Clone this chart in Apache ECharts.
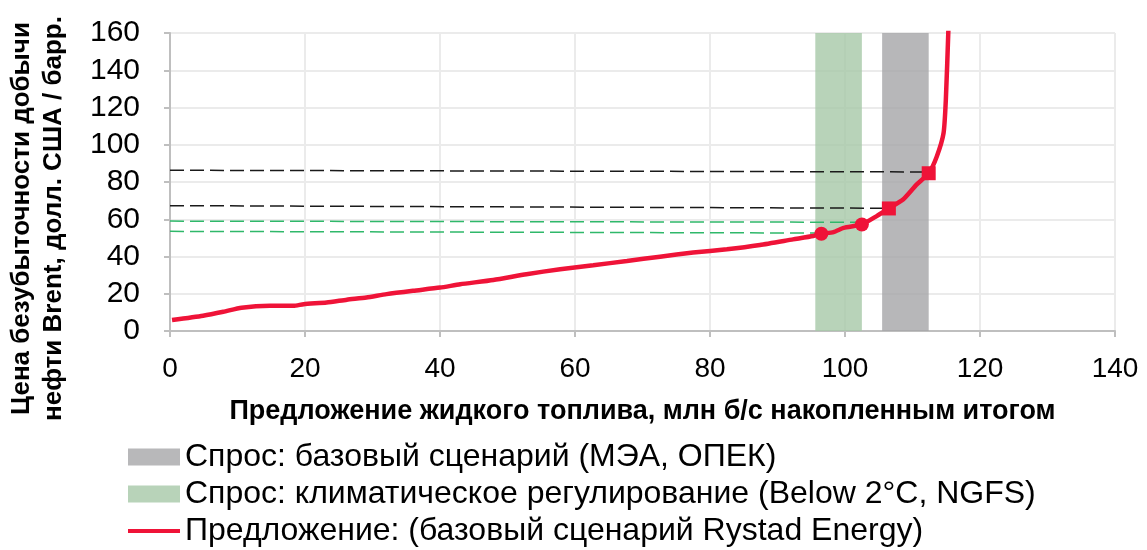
<!DOCTYPE html>
<html>
<head>
<meta charset="utf-8">
<script src="https://cdn.jsdelivr.net/npm/echarts@6/dist/echarts.min.js"></script>
<style>
  html, body { margin: 0; padding: 0; background: #fff; }
  #chart { width: 1147px; height: 550px; }
</style>
</head>
<body>
<div id="chart"></div>
<script>
// Предложение (кривая Rystad): накопленное предложение и цена безубыточности
var supplyX = [0.3, 4.9, 7.9, 10.6, 14.8, 18.3, 19.8, 23.2, 26.2, 29.1, 32.1, 36.0, 40.0, 43.0, 47.9, 52.8, 57.8, 62.7, 67.7, 72.6, 77.5, 82.5, 87.4, 92.3, 95.3, 96.5, 98.3, 99.8, 102.5, 104.7, 106.5, 108.6, 110.6, 112.4, 113.6, 114.6, 114.95, 115.3, 115.35]
var supplyY = [5.9, 8.2, 10.3, 12.5, 13.5, 13.5, 14.4, 15.3, 16.8, 18.0, 19.8, 21.6, 23.3, 25.1, 27.4, 30.5, 33.2, 35.3, 37.6, 39.9, 42.1, 43.9, 46.2, 49.2, 51.0, 52.2, 53.1, 55.4, 57.2, 61.7, 65.8, 70.6, 78.6, 84.7, 93.7, 106.2, 125, 160, 166]

// полосы спроса (млн б/с)
var greenBand = [95.6, 102.5]
var grayBand = [105.5, 112.4]

// точки пересечения спроса и предложения
var circlePts = [[96.5, 52.2], [102.5, 57.2]]
var squarePts = [[106.5, 65.8], [112.4, 84.7]]

// пунктирные линии цен
var greenDash = [[[0, 53.5], [96.5, 52.6]], [[0, 59.0], [102.5, 58.4]]]
var blackDash = [[[0, 67.3], [106.5, 65.9]], [[0, 86.3], [112.4, 85.4]]]

var xTicks = {min: 0, max: 140, interval: 20}
var yTicks = {min: 0, max: 160, interval: 20}

var names = [
    'Спрос: базовый сценарий (МЭА, ОПЕК)',
    'Спрос: климатическое регулирование (Below 2°C, NGFS)',
    'Предложение: (базовый сценарий Rystad Energy)'
]

var RED = '#ef1338'
var FONT = "'Liberation Sans', Arial, sans-serif"

var chart = echarts.init(document.getElementById('chart'))

function dashSeries(pts, color) {
    return {
        type: 'line',
        data: pts,
        symbol: 'none',
        silent: true,
        z: 3,
        lineStyle: {color: color, width: 1.5, type: [14, 6]}
    }
}

var series = [{
    name: names[0],
    type: 'line',
    data: [],
    itemStyle: {color: '#b8b8ba'},
    markArea: {
        silent: true,
        itemStyle: {color: 'rgba(165,165,167,0.8)'},
        data: [[{xAxis: grayBand[0]}, {xAxis: grayBand[1]}]]
    }
}, {
    name: names[1],
    type: 'line',
    data: [],
    itemStyle: {color: '#b8d3b9'},
    markArea: {
        silent: true,
        itemStyle: {color: 'rgba(166,200,167,0.8)'},
        data: [[{xAxis: greenBand[0]}, {xAxis: greenBand[1]}]]
    }
}]

greenDash.forEach(function (p) { series.push(dashSeries(p, '#2fb86a')) })
blackDash.forEach(function (p) { series.push(dashSeries(p, '#1a1a1a')) })

series.push({
    name: names[2],
    type: 'line',
    data: supplyX.map(function (x, i) { return [x, supplyY[i]] }),
    symbol: 'none',
    smooth: 0.2,
    z: 5,
    itemStyle: {color: RED},
    lineStyle: {color: RED, width: 4.5}
})
series.push({
    type: 'scatter',
    data: circlePts,
    symbol: 'circle',
    symbolSize: 14,
    z: 6,
    itemStyle: {color: RED, opacity: 1}
})
series.push({
    type: 'scatter',
    data: squarePts,
    symbol: 'rect',
    symbolSize: 14,
    z: 6,
    itemStyle: {color: RED, opacity: 1}
})

chart.setOption({
    animation: false,
    textStyle: {fontFamily: FONT},
    grid: {left: 170, right: 32, top: 33, bottom: 219, containLabel: false, outerBoundsMode: 'none'},
    legend: {
        orient: 'vertical',
        left: 128,
        top: 440,
        padding: 0,
        itemWidth: 52,
        itemHeight: 17,
        itemGap: 3,
        textStyle: {fontSize: 32, color: '#000', fontFamily: FONT, lineHeight: 34},
        data: [
            {name: names[0], icon: 'rect'},
            {name: names[1], icon: 'rect'},
            {name: names[2], icon: 'path://M0,0H52V4H0Z'}
        ]
    },
    xAxis: {
        type: 'value',
        min: xTicks.min,
        max: xTicks.max,
        interval: xTicks.interval,
        name: 'Предложение жидкого топлива, млн б/с накопленным итогом',
        nameLocation: 'middle',
        nameGap: 67,
        nameTextStyle: {fontSize: 27, fontWeight: 'bold', color: '#000'},
        axisLine: {lineStyle: {color: '#bfbfbf', width: 2}},
        axisTick: {show: true, length: 6, lineStyle: {color: '#bfbfbf', width: 2}},
        axisLabel: {fontSize: 28, color: '#000', margin: 24},
        splitLine: {lineStyle: {color: '#ebebeb', width: 2}}
    },
    yAxis: {
        type: 'value',
        min: yTicks.min,
        max: yTicks.max,
        interval: yTicks.interval,
        name: 'Цена безубыточности добычи\nнефти Brent, долл. США / барр.',
        nameLocation: 'middle',
        nameGap: 100,
        nameTextStyle: {fontSize: 26, fontWeight: 'bold', color: '#000', lineHeight: 32, padding: [0, 73, 0, 0]},
        axisLine: {show: true, lineStyle: {color: '#bfbfbf', width: 2}},
        axisTick: {show: true, length: 6, lineStyle: {color: '#bfbfbf', width: 2}},
        axisLabel: {fontSize: 30, color: '#000', margin: 30},
        splitLine: {lineStyle: {color: '#ebebeb', width: 2}}
    },
    series: series
})
</script>
</body>
</html>
